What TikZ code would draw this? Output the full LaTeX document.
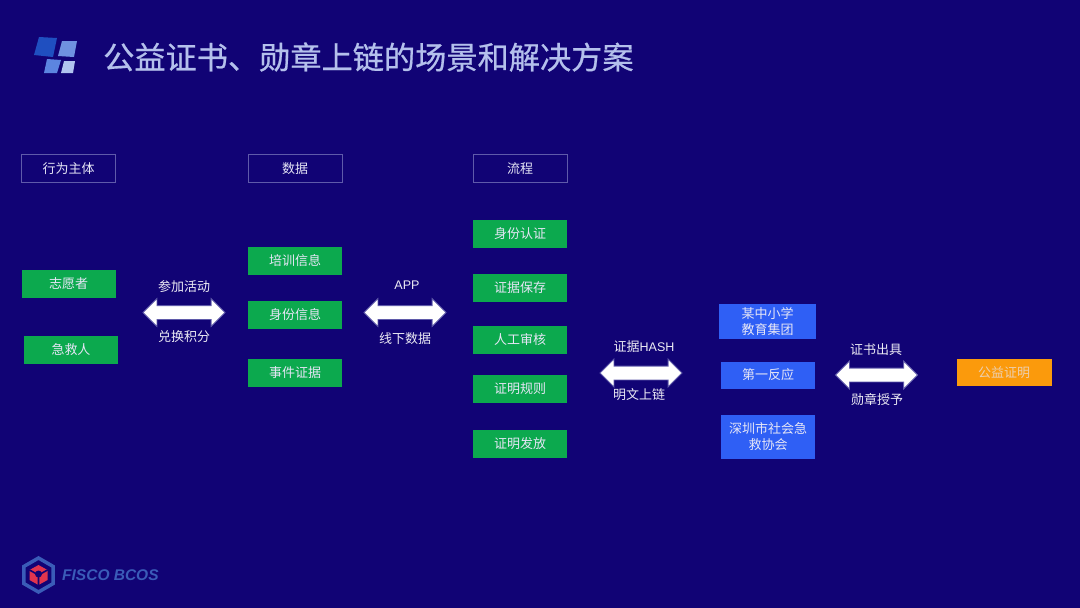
\documentclass[tikz,border=0pt]{standalone}
\usepackage{fontspec}
\setmainfont{Noto Sans CJK SC}
\newfontfamily\latinfont{Liberation Sans}
\newfontfamily\titlefont[FakeBold=0.6]{Noto Sans CJK SC}
\usetikzlibrary{shapes.arrows,shapes.geometric}
\definecolor{bgc}{HTML}{110375}
\definecolor{titlec}{HTML}{B4C0EC}
\definecolor{greenc}{HTML}{0CA94E}
\definecolor{bluec}{HTML}{2F5FF5}
\definecolor{orangec}{HTML}{FB9A0C}
\definecolor{framec}{HTML}{5F5AAA}
\definecolor{txtc}{HTML}{E6E6F6}
\definecolor{logoc}{HTML}{3A5CB8}
\definecolor{lga}{HTML}{1F4FC0}
\definecolor{lgb}{HTML}{6F92E0}
\definecolor{lgc}{HTML}{5C85E0}
\definecolor{lgd}{HTML}{B0C4F0}
\definecolor{lgr}{HTML}{E0354E}
\tikzset{
  x=1pt,y=-1pt,
  box/.style={minimum width=#1,inner sep=0pt,align=center,font=\fontsize{13}{16}\selectfont,text=txtc},
  head/.style={box=94pt,minimum height=28pt,draw=framec,line width=1pt},
  gbox/.style={box=94pt,minimum height=28pt,fill=greenc},
  bbox/.style={box=94pt,fill=bluec},
  lab/.style={font=\fontsize{13}{16}\selectfont,text=white!92!bgc,inner sep=0pt},
  dbl/.style={double arrow,fill=white,draw=framec,line width=.8pt,minimum height=82pt,inner xsep=0pt,inner ysep=6.5pt,double arrow head extend=7pt,double arrow tip angle=90,text width=0pt,text height=0pt,text depth=0pt}
}
\begin{document}
\begin{tikzpicture}
\useasboundingbox[fill=bgc] (0,0) rectangle (1080,608);
% title logo
\fill[fill=lga] (39,37) -- (57,38) -- (53,57) -- (34,55) -- cycle;
\fill[fill=lgb] (62,41) -- (77,41) -- (74,57) -- (58,56) -- cycle;
\fill[fill=lgc] (47,59) -- (61,60) -- (57,73) -- (44,73) -- cycle;
\fill[fill=lgd] (64,61) -- (75,61) -- (73,73) -- (61,73) -- cycle;
\node[anchor=west,inner sep=0pt,text=titlec,font=\titlefont\fontsize{31.2}{34}\selectfont] (title) at (103,57) {公益证书、勋章上链的场景和解决方案};
% headers
\node[head] (h1) at (68.5,168.5) {行为主体};
\node[head] (h2) at (295,168.5) {数据};
\node[head] (h3) at (520,168.5) {流程};
% column 1
\node[gbox] (a1) at (68.5,284) {志愿者};
\node[gbox] (a2) at (71,350) {急救人};
% column 2
\node[gbox] (b1) at (295,261) {培训信息};
\node[gbox] (b2) at (295,315) {身份信息};
\node[gbox] (b3) at (295,373) {事件证据};
% column 3
\node[gbox] (c1) at (520,234) {身份认证};
\node[gbox] (c2) at (520,288) {证据保存};
\node[gbox] (c3) at (520,339.5) {人工审核};
\node[gbox] (c4) at (520,389) {证明规则};
\node[gbox] (c5) at (520,443.5) {证明发放};
% blue
\node[bbox,minimum width=97pt,minimum height=35pt] (d1) at (767.5,321.5) {某中小学\\教育集团};
\node[bbox,minimum height=27pt] (d2) at (768,375) {第一反应};
\node[bbox,minimum height=44pt] (d3) at (768,437) {深圳市社会急\\救协会};
% orange
\node[box=95pt,minimum height=27pt,fill=orangec,text=txtc!70!orangec] (e) at (1004,372.5) {公益证明};
% arrows
\node[dbl] (ar1) at (184,312.5) {};
\node[lab] (l1a) at (184,287) {参加活动};
\node[lab] (l1b) at (184,337) {兑换积分};
\node[dbl] (ar2) at (405,312.5) {};
\node[lab,font=\latinfont\fontsize{12.5}{16}\selectfont] (l2a) at (407,285) {APP};
\node[lab] (l2b) at (405,339) {线下数据};
\node[dbl] (ar3) at (641,373) {};
\node[lab] (l3a) at (644,347) {证据{\latinfont\fontsize{12.5}{16}\selectfont HASH}};
\node[lab] (l3b) at (639,395) {明文上链};
\node[dbl] (ar4) at (876.5,375) {};
\node[lab] (l4a) at (876,350) {证书出具};
\node[lab] (l4b) at (877,399) {勋章授予};
% bottom logo
\node[regular polygon,regular polygon sides=6,shape border rotate=30,minimum size=34pt,inner sep=0pt,draw=logoc,line width=3.5pt] (hex) at (38.5,575) {};
\fill[fill=lgr] (38.5,565) -- (47.5,570) -- (47.5,580) -- (38.5,585) -- (29.5,580) -- (29.5,570) -- cycle;
\draw[bgc,line width=1.6pt] (38.5,575) -- (29.5,570) (38.5,575) -- (47.5,570) (38.5,575) -- (38.5,585);
\fill[bgc] (38.5,574) circle (3.5pt);
\node[anchor=west,inner sep=0pt,text=logoc,font=\latinfont\bfseries\itshape\fontsize{15.5}{16}\selectfont] (brand) at (62,575) {FISCO BCOS};
\end{tikzpicture}
\end{document}
